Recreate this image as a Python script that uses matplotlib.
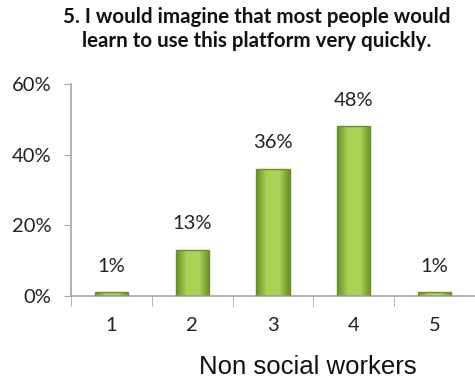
import matplotlib
matplotlib.use("Agg")
import matplotlib.pyplot as plt
import numpy as np

categories = ["1", "2", "3", "4", "5"]
values = [1, 13, 36, 48, 1]
value_labels = ["1%", "13%", "36%", "48%", "1%"]
yticks = [0, 20, 40, 60]
ytick_labels = ["0%", "20%", "40%", "60%"]
title = "5. I would imagine that most people would\nlearn to use this platform very quickly."
xlabel = "Non social workers"

AXIS_GRAY = "#a6a6a6"
BAR_EDGE = "#6b8f2a"
NUM_FONT = ["Lato", "DejaVu Sans"]
LABEL_FONT = ["Liberation Sans", "DejaVu Sans"]

fig = plt.figure(figsize=(4.75, 3.82), dpi=100)
ax = fig.add_axes([71 / 475, 1 - 296 / 382, 404 / 475, 212 / 382])

x = np.arange(1, len(categories) + 1)
bars = ax.bar(x, values, width=0.41, color="none", edgecolor=BAR_EDGE, linewidth=1.0, zorder=3)

# bevel-like shading: dark edges, light middle
grad = np.linspace(0, 1, 64)
shade = 1 - np.abs(grad - 0.5) * 2
c_dark = np.array([0.42, 0.56, 0.16])
c_light = np.array([0.66, 0.83, 0.33])
img = (c_dark[None, :] + (c_light - c_dark)[None, :] * np.clip(shade * 1.6, 0, 1)[:, None])[None, :, :]
for b in bars:
    x0, w, h = b.get_x(), b.get_width(), b.get_height()
    im = ax.imshow(img, extent=[x0, x0 + w, 0, h], aspect="auto", zorder=2, interpolation="bilinear")
    im.set_clip_path(b)

for xi, v, lab in zip(x, values, value_labels):
    ax.text(xi, v + 5, lab, ha="center", va="bottom", fontsize=14.5,
            family=NUM_FONT, color="#222222")

ax.set_xlim(0.5, 5.4)
ax.set_ylim(0, 60)
ax.set_yticks(yticks)
ax.set_yticklabels(ytick_labels, fontsize=14.5, family=NUM_FONT, color="#222222")

ax.set_xticks(x)
ax.set_xticklabels(categories, fontsize=14.5, family=NUM_FONT, color="#222222")
ax.tick_params(axis="x", length=0, pad=15)
ax.set_xticks(np.arange(0.5, 5.6, 1), minor=True)
ax.tick_params(axis="x", which="minor", length=7, color=AXIS_GRAY, direction="out")
ax.tick_params(axis="y", length=5, color=AXIS_GRAY, direction="out", pad=9)

for side in ["top", "right"]:
    ax.spines[side].set_visible(False)
for side in ["left", "bottom"]:
    ax.spines[side].set_color(AXIS_GRAY)
    ax.spines[side].set_linewidth(1.2)

fig.text(0.54, 0.982, title, ha="center", va="top", fontsize=14.8, fontweight="bold",
         family=NUM_FONT, linespacing=1.25, color="#111111")
fig.text(0.647, 0.008, xlabel, ha="center", va="bottom", fontsize=18.5,
         family=LABEL_FONT, color="#111111")

fig.savefig("out.png", dpi=100)
